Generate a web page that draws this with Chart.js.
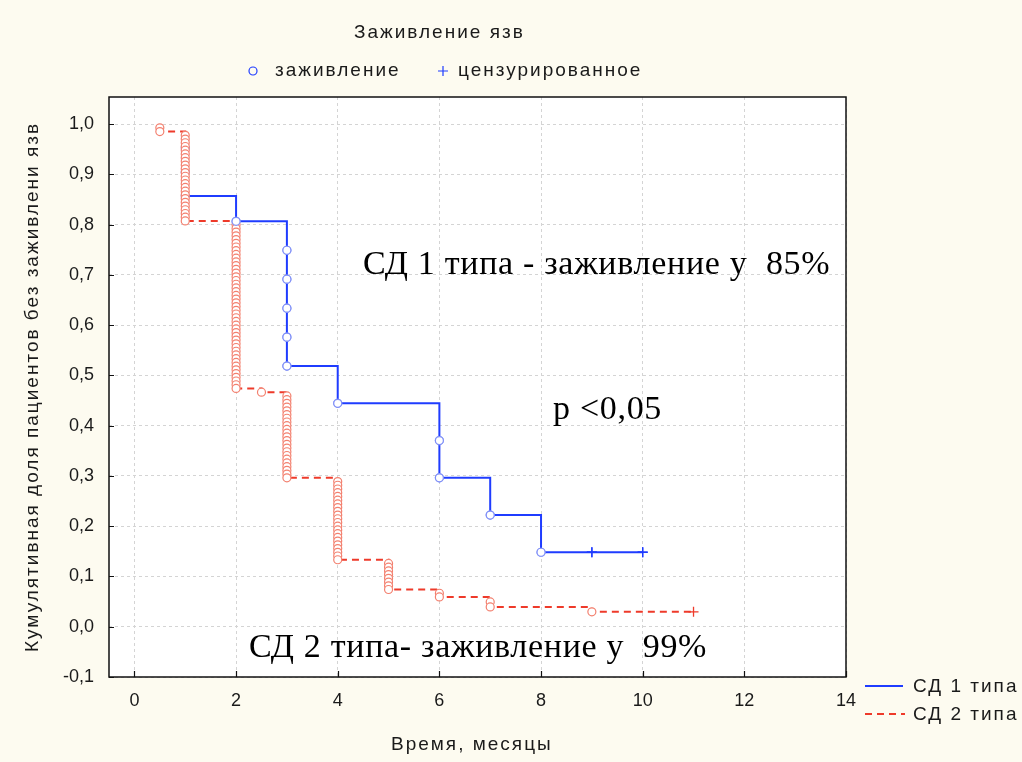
<!DOCTYPE html>
<html>
<head>
<meta charset="utf-8">
<script src="https://cdn.jsdelivr.net/npm/chart.js@4.4.1/dist/chart.umd.min.js"></script>
<style>
  html, body { margin: 0; padding: 0; background: #fdfbf0; }
  #wrap { width: 1022px; height: 762px; }
</style>
</head>
<body>
<div id="wrap"><canvas id="kmChart" width="1022" height="762"></canvas></div>
<script>
// Ticks
const xTicks = [0, 2, 4, 6, 8, 10, 12, 14];
const yTicks = [-0.1, 0, 0.1, 0.2, 0.3, 0.4, 0.5, 0.6, 0.7, 0.8, 0.9, 1.0];

// СД 1 типа: event times (months), number at risk, healed, censored times
const t1Times = [1, 2, 3, 4, 6, 7, 8];
const t1AtRisk = [21, 17, 14, 7, 6, 4, 3];
const t1Events = [3, 1, 5, 1, 2, 1, 1];
const t1Censored = [9, 10];

// СД 2 типа
const t2Times = [0.5, 1, 2, 2.5, 3, 4, 5, 6, 7, 9];
const t2AtRisk = [135, 133, 109, 64, 63, 40, 18, 10, 6, 4];
const t2Events = [2, 24, 45, 1, 23, 22, 8, 2, 2, 1];
const t2Censored = [11];

const seriesLabels = ['СД 1 типа', 'СД 2 типа'];

const BLUE = '#1f3cff';
const BLUE_PT = '#7f8ff7';
const RED = '#ee3a2a';
const RED_PT = '#f3806f';
const SANS = '"Liberation Sans", Arial, sans-serif';

// Kaplan-Meier product-limit estimate, one point per healed ulcer
function kmPoints(times, atRisk, events, censored) {
  let s = 1;
  const pts = [];
  times.forEach((t, i) => {
    const start = s;
    for (let k = 1; k <= events[i]; k++) pts.push({ x: t, y: start * (1 - k / atRisk[i]) });
    s = start * (1 - events[i] / atRisk[i]);
  });
  censored.forEach(t => pts.push({ x: t, y: s, cens: true }));
  return pts;
}

const t1Points = kmPoints(t1Times, t1AtRisk, t1Events, t1Censored);
const t2Points = kmPoints(t2Times, t2AtRisk, t2Events, t2Censored);

const fmt = v => v.toFixed(1).replace('.', ',');
const isCens = ctx => !!(ctx.raw && ctx.raw.cens);

function kmDataset(label, data, color, ptColor, dash, order) {
  return {
    label, data, order,
    showLine: true,
    stepped: 'before',
    borderColor: color,
    borderWidth: 2,
    borderDash: dash,
    pointStyle: ctx => (isCens(ctx) ? 'cross' : 'circle'),
    pointRadius: ctx => (isCens(ctx) ? 5 : 4),
    pointBorderWidth: ctx => (isCens(ctx) ? 1.3 : 1.2),
    pointBackgroundColor: '#ffffff',
    pointBorderColor: ctx => (isCens(ctx) ? color : ptColor)
  };
}

// backgrounds, frame, inner ticks and all the text around the plot
const decor = {
  id: 'decor',
  beforeDraw(chart) {
    const { ctx, chartArea: a } = chart;
    ctx.save();
    ctx.fillStyle = '#fdfbf0';
    ctx.fillRect(0, 0, chart.width, chart.height);
    ctx.fillStyle = '#ffffff';
    ctx.fillRect(a.left, a.top, a.right - a.left, a.bottom - a.top);
    ctx.restore();
  },
  afterDraw(chart) {
    const { ctx, chartArea: a, scales } = chart;
    ctx.save();
    ctx.strokeStyle = '#111';
    ctx.lineWidth = 1.5;
    ctx.strokeRect(a.left, a.top, a.right - a.left, a.bottom - a.top);
    ctx.beginPath();
    yTicks.forEach(v => {
      const y = Math.round(scales.y.getPixelForValue(v)) + 0.5;
      ctx.moveTo(a.left, y); ctx.lineTo(a.left + 5, y);
    });
    xTicks.forEach(v => {
      const x = Math.round(scales.x.getPixelForValue(v)) + 0.5;
      ctx.moveTo(x, a.bottom); ctx.lineTo(x, a.bottom - 6);
    });
    ctx.lineWidth = 1.2;
    ctx.stroke();

    ctx.fillStyle = '#1a1a1a';
    ctx.textBaseline = 'middle';
    ctx.font = '19px ' + SANS;
    ctx.letterSpacing = '2px';
    ctx.textAlign = 'left';
    ctx.fillText('Заживление язв', 354, 33);
    ctx.fillText('Время, месяцы', 391, 745);
    ctx.fillText('заживление', 275, 71);
    ctx.fillText('цензурированное', 458, 71);
    ctx.strokeStyle = BLUE;
    ctx.lineWidth = 1.2;
    ctx.beginPath();
    ctx.arc(253, 71, 4, 0, Math.PI * 2);
    ctx.stroke();
    ctx.beginPath();
    ctx.moveTo(438, 71); ctx.lineTo(448, 71);
    ctx.moveTo(443, 66); ctx.lineTo(443, 76);
    ctx.stroke();

    // y axis title
    ctx.save();
    ctx.translate(33, 652);
    ctx.rotate(-Math.PI / 2);
    ctx.fillText('Кумулятивная доля пациентов без заживлени язв', 0, 0);
    ctx.restore();

    // series legend
    ctx.lineWidth = 2;
    ctx.strokeStyle = BLUE;
    ctx.beginPath(); ctx.moveTo(865, 686); ctx.lineTo(903, 686); ctx.stroke();
    ctx.strokeStyle = RED;
    ctx.setLineDash([7, 5]);
    ctx.beginPath(); ctx.moveTo(865, 714); ctx.lineTo(905, 714); ctx.stroke();
    ctx.setLineDash([]);
    ctx.fillText(seriesLabels[0], 913, 687);
    ctx.fillText(seriesLabels[1], 913, 715);

    // notes on the plot
    ctx.fillStyle = '#000';
    ctx.textBaseline = 'alphabetic';
    ctx.letterSpacing = '0.7px';
    ctx.font = '34px "Liberation Serif", "Times New Roman", serif';
    ctx.fillText('СД 1 типа - заживление у  85%', 363, 274);
    ctx.fillText('p <0,05', 553, 419);
    ctx.fillText('СД 2 типа- заживление у  99%', 249, 657);
    ctx.restore();
  }
};

new Chart(document.getElementById('kmChart'), {
  type: 'scatter',
  data: {
    datasets: [
      kmDataset(seriesLabels[0], t1Points, BLUE, BLUE_PT, [], 3),
      kmDataset(seriesLabels[1], t2Points, RED, RED_PT, [7, 5], 2),
      // blue marks from month 2 on sit above the red columns
      Object.assign(kmDataset(seriesLabels[0], t1Points.filter(p => p.x >= 2), BLUE, BLUE_PT, [], 1), { showLine: false })
    ]
  },
  options: {
    responsive: false,
    animation: false,
    layout: { padding: { left: 0, right: 176, top: 97, bottom: 0 } },
    plugins: { legend: { display: false }, tooltip: { enabled: false }, title: { display: false } },
    scales: {
      x: {
        type: 'linear', min: -0.5, max: 14,
        afterBuildTicks: s => { s.ticks = xTicks.map(v => ({ value: v })); },
        afterFit: s => { s.height = 85; },
        grid: { color: '#d4d4d4', lineWidth: 1, drawTicks: false },
        border: { display: false, dash: [3, 3] },
        ticks: { padding: 13, color: '#1a1a1a', font: { family: 'Liberation Sans', size: 18 }, callback: v => String(v) }
      },
      y: {
        type: 'linear', min: -0.1, max: 1.054,
        afterBuildTicks: s => { s.ticks = yTicks.map(v => ({ value: v })); },
        afterFit: s => { s.width = 109; },
        grid: { color: '#d4d4d4', lineWidth: 1, drawTicks: false },
        border: { display: false, dash: [3, 3] },
        ticks: { padding: 15, color: '#1a1a1a', font: { family: 'Liberation Sans', size: 18 }, callback: v => fmt(v) }
      }
    }
  },
  plugins: [decor]
});
</script>
</body>
</html>
